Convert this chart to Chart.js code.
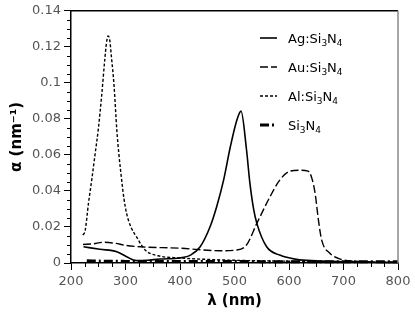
<!DOCTYPE html>
<html>
<head>
<meta charset="utf-8">
<script src="https://cdn.jsdelivr.net/npm/chart.js@4.4.1/dist/chart.umd.min.js"></script>
<style>
  html, body { margin: 0; padding: 0; background: #fff; }
  #wrap { width: 415px; height: 316px; }
</style>
</head>
<body>
<div id="wrap"><canvas id="chart" width="415" height="316"></canvas></div>
<script>
// ── Data ──────────────────────────────────────────────────────────────
var agX = [223, 253, 284, 302, 320, 340, 363, 400, 420, 437, 455, 467, 480, 492, 504, 512, 522, 528, 535, 541, 559, 583, 614, 650, 700, 750, 800];
var agY = [0.009, 0.0076, 0.0063, 0.0035, 0.0013, 0.0015, 0.0022, 0.0028, 0.0045, 0.009, 0.02, 0.031, 0.046, 0.064, 0.079, 0.0843, 0.063, 0.045, 0.03, 0.022, 0.009, 0.0044, 0.002, 0.0012, 0.0007, 0.0004, 0.0003];

var auX = [222, 240, 259, 280, 300, 327, 400, 473, 504, 522, 541, 565, 583, 602, 620, 635, 642, 648, 654, 660, 675, 694, 720, 760, 800];
var auY = [0.0103, 0.0106, 0.0115, 0.011, 0.0098, 0.009, 0.0082, 0.0068, 0.0072, 0.01, 0.022, 0.0367, 0.046, 0.051, 0.0515, 0.051, 0.047, 0.0385, 0.0238, 0.0127, 0.0054, 0.0022, 0.001, 0.0006, 0.0005];

var alX = [222, 226, 232, 238, 244, 250, 256, 262, 265, 268, 271, 274, 279, 284, 288, 293, 297, 302, 310, 320, 336, 360, 400, 450, 500, 600, 700, 750];
var alY = [0.0155, 0.018, 0.033, 0.046, 0.06, 0.074, 0.092, 0.113, 0.122, 0.126, 0.124, 0.115, 0.0985, 0.074, 0.06, 0.046, 0.036, 0.0275, 0.02, 0.0146, 0.0072, 0.004, 0.0028, 0.002, 0.0015, 0.001, 0.0007, 0.0005];

var siX = [229, 260, 300, 400, 500, 600, 700, 800];
var siY = [0.0012, 0.001, 0.0009, 0.0008, 0.0008, 0.0007, 0.0007, 0.0007];

var seriesLabels = ["Ag:Si_3N_4", "Au:Si_3N_4", "Al:Si_3N_4", "Si_3N_4"];
var xTicks = [200, 300, 400, 500, 600, 700, 800];
var yTicks = [0, 0.02, 0.04, 0.06, 0.08, 0.1, 0.12, 0.14];

function pts(xs, ys) {
  return xs.map(function (x, i) { return { x: x, y: ys[i] }; });
}

var styles = [
  { width: 1.6, dash: [] },
  { width: 1.4, dash: [8, 3] },
  { width: 1.4, dash: [3, 2] },
  { width: 3, dash: [9, 3, 2, 3] }
];

// ── Frame, minor ticks and legend ─────────────────────────────────────
var extras = {
  id: "extras",
  afterDraw: function (chart) {
    var ctx = chart.ctx, a = chart.chartArea;
    var xs = chart.scales.x, ys = chart.scales.y;
    ctx.save();
    // top / right frame
    ctx.lineWidth = 1.5;
    ctx.strokeStyle = "#000";
    ctx.beginPath(); ctx.moveTo(a.left, a.top); ctx.lineTo(a.right, a.top); ctx.stroke();
    ctx.strokeStyle = "#888";
    ctx.beginPath(); ctx.moveTo(a.right, a.top); ctx.lineTo(a.right, a.bottom); ctx.stroke();
    // minor ticks
    ctx.strokeStyle = "#000";
    ctx.lineWidth = 1;
    var v, p;
    for (v = 200; v <= 800; v += 25) {
      if (v % 100 === 0) continue;
      p = Math.round(xs.getPixelForValue(v)) + 0.5;
      ctx.beginPath(); ctx.moveTo(p, a.bottom); ctx.lineTo(p, a.bottom + 4); ctx.stroke();
    }
    for (v = 0; v <= 28; v++) {
      if (v % 4 === 0) continue;
      p = Math.round(ys.getPixelForValue(v * 0.005)) + 0.5;
      ctx.beginPath(); ctx.moveTo(a.left - 4, p); ctx.lineTo(a.left, p); ctx.stroke();
    }
    // legend
    var rows = [38, 67, 96, 125];
    seriesLabels.forEach(function (lab, i) {
      var y = rows[i];
      ctx.strokeStyle = "#000";
      ctx.lineWidth = styles[i].width;
      ctx.setLineDash(styles[i].dash);
      ctx.beginPath(); ctx.moveTo(260, y); ctx.lineTo(277, y); ctx.stroke();
      ctx.setLineDash([]);
      drawSub(ctx, lab, 288, y + 5);
    });
    ctx.restore();
  }
};

function drawSub(ctx, text, x, y) {
  var parts = text.split("_");
  ctx.fillStyle = "#000";
  ctx.textBaseline = "alphabetic";
  ctx.textAlign = "left";
  parts.forEach(function (part, i) {
    if (i === 0) {
      ctx.font = "13px 'DejaVu Sans'";
      ctx.fillText(part, x, y);
      x += ctx.measureText(part).width;
      return;
    }
    ctx.font = "9px 'DejaVu Sans'";
    ctx.fillText(part[0], x, y + 3);
    x += ctx.measureText(part[0]).width;
    var rest = part.slice(1);
    if (rest) {
      ctx.font = "13px 'DejaVu Sans'";
      ctx.fillText(rest, x, y);
      x += ctx.measureText(rest).width;
    }
  });
}

// ── Chart ─────────────────────────────────────────────────────────────
var sets = [[agX, agY], [auX, auY], [alX, alY], [siX, siY]].map(function (s, i) {
  return {
    label: seriesLabels[i].replace(/_/g, ""),
    data: pts(s[0], s[1]),
    borderColor: "#000",
    borderWidth: styles[i].width,
    borderDash: styles[i].dash,
    pointRadius: 0,
    fill: false,
    clip: 4,
    cubicInterpolationMode: "monotone"
  };
});

new Chart(document.getElementById("chart").getContext("2d"), {
  type: "line",
  data: { datasets: sets },
  plugins: [extras],
  options: {
    responsive: false,
    animation: false,
    layout: { padding: { top: 10, right: 17, left: 0, bottom: 0 } },
    plugins: { legend: { display: false }, tooltip: { enabled: false } },
    scales: {
      x: {
        type: "linear",
        min: 200, max: 800,
        afterBuildTicks: function (s) { s.ticks = xTicks.map(function (v) { return { value: v }; }); },
        afterFit: function (s) { s.height = 53; },
        grid: { drawOnChartArea: false, tickLength: 7, color: "#000" },
        border: { color: "#000", width: 1.5 },
        ticks: { color: "#555", font: { family: "DejaVu Sans", size: 13 }, padding: 4, maxRotation: 0 },
        title: { display: true, text: "λ (nm)", color: "#000", font: { family: "DejaVu Sans", size: 15, weight: "bold" }, padding: { top: 0, bottom: 6 } }
      },
      y: {
        min: 0, max: 0.14,
        afterBuildTicks: function (s) { s.ticks = yTicks.map(function (v) { return { value: v }; }); },
        afterFit: function (s) { s.width = 71; },
        grid: { drawOnChartArea: false, tickLength: 7, color: "#000" },
        border: { color: "#000", width: 1.5 },
        ticks: {
          color: "#555", font: { family: "DejaVu Sans", size: 13 }, padding: 3,
          callback: function (v) { return String(Math.round(v * 100) / 100); }
        },
        title: { display: true, text: "α (nm⁻¹)", color: "#000", font: { family: "DejaVu Sans", size: 15, weight: "bold" }, padding: { top: 8, bottom: 0 } }
      }
    }
  }
});
</script>
</body>
</html>
